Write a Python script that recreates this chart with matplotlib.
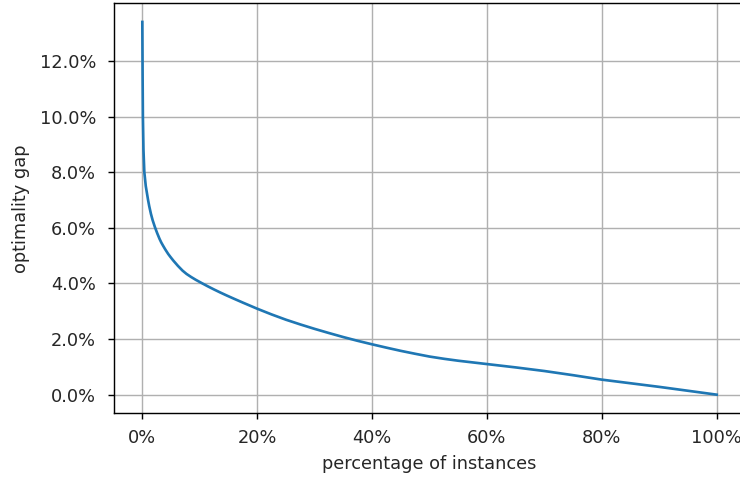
import matplotlib
matplotlib.use("Agg")
import matplotlib.pyplot as plt
from matplotlib.ticker import PercentFormatter

# percentage of instances (%) and optimality gap (%)
pct_instances = [0, 0.05, 0.1, 0.2, 0.35, 0.6, 0.8, 1.0, 1.2, 1.5, 1.8, 2.2, 2.6,
                 3.0, 3.3, 3.6, 4.0, 4.5, 4.9, 5.4, 6.2, 7.0, 7.7, 8.5, 9.3, 10.4,
                 11.4, 12.5, 13.6, 14.7, 16.0, 17.5, 20, 22.5, 25, 27.5, 30, 32.5,
                 35, 37.5, 40, 42.5, 45, 47.5, 50, 52.5, 55, 57.5, 60, 62.5, 65,
                 70, 75, 80, 85, 90, 95, 100]
opt_gap = [13.4, 11.5, 10.0, 8.8, 8.0, 7.5, 7.25, 7.0, 6.78, 6.5, 6.27, 6.02, 5.8,
           5.6, 5.47, 5.36, 5.22, 5.06, 4.95, 4.82, 4.63, 4.46, 4.34, 4.23, 4.13, 4.005,
           3.895, 3.78, 3.67, 3.565, 3.445, 3.31, 3.09, 2.885, 2.695, 2.525, 2.365, 2.215,
           2.07, 1.935, 1.81, 1.69, 1.575, 1.47, 1.37, 1.29, 1.22, 1.16, 1.10, 1.04, 0.98,
           0.85, 0.70, 0.54, 0.41, 0.28, 0.14, 0.0]

DPI = 128
fig = plt.figure(figsize=(740 / DPI, 478 / DPI), dpi=DPI)
ax = fig.add_axes([113.6 / 740, 64.7 / 478, 631.8 / 740, 410 / 478])
ax.plot(pct_instances, opt_gap, color="#1f77b4", linewidth=1.5)
ax.grid(True)
ax.xaxis.set_major_formatter(PercentFormatter(xmax=100, decimals=0))
ax.yaxis.set_major_formatter(PercentFormatter(xmax=100, decimals=1))
ax.set_xticks([0, 20, 40, 60, 80, 100])
ax.set_yticks([0, 2, 4, 6, 8, 10, 12])
ax.tick_params(axis="y", pad=6.3, labelcolor="#262626")
ax.tick_params(axis="x", pad=5.2, labelcolor="#262626")
ax.set_xlabel("percentage of instances", labelpad=4.6, color="#262626")
ax.set_ylabel("optimality gap", labelpad=5.7, color="#262626")
fig.savefig("out.png", dpi=DPI)
